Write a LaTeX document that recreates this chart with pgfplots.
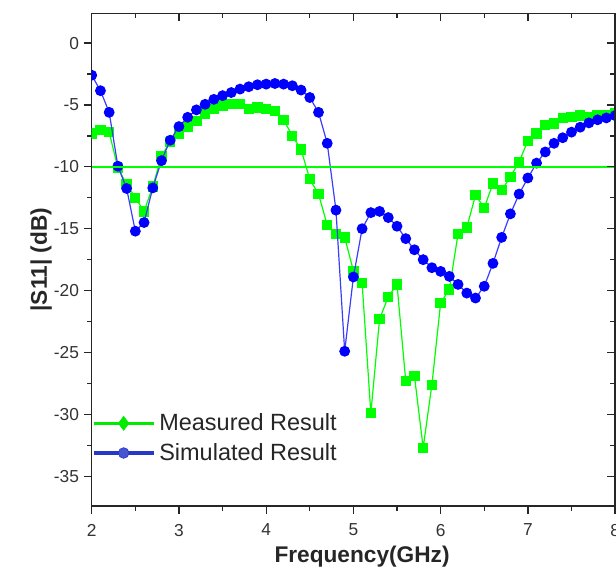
\documentclass[border=0pt]{standalone}
\usepackage{fontspec}
\setmainfont{Liberation Sans}
\usepackage{pgfplots}
\pgfplotsset{compat=1.18}

\definecolor{mgreen}{RGB}{0,255,0}
\definecolor{sblue}{RGB}{0,0,255}
\definecolor{sline}{RGB}{60,60,255}
\definecolor{leggreen}{RGB}{0,235,0}
\definecolor{legblue}{RGB}{40,55,200}

% measured |S11|
\pgfplotstableread{
f    s
2.0  -7.3
2.1  -7.0
2.2  -7.2
2.3  -10.1
2.4  -11.4
2.5  -12.5
2.6  -13.6
2.7  -11.6
2.8  -9.1
2.9  -8.0
3.0  -7.3
3.1  -6.8
3.2  -6.3
3.3  -5.7
3.4  -5.3
3.5  -5.05
3.6  -4.95
3.7  -4.95
3.8  -5.3
3.9  -5.2
4.0  -5.3
4.1  -5.5
4.2  -6.2
4.3  -7.5
4.4  -8.6
4.5  -11.0
4.6  -12.2
4.7  -14.7
4.8  -15.4
4.9  -15.7
5.0  -18.4
5.1  -19.4
5.2  -29.9
5.3  -22.3
5.4  -20.5
5.5  -19.5
5.6  -27.3
5.7  -26.9
5.8  -32.7
5.9  -27.6
6.0  -21.0
6.1  -19.9
6.2  -15.4
6.3  -14.9
6.4  -12.3
6.5  -13.3
6.6  -11.35
6.7  -11.9
6.8  -10.8
6.9  -9.6
7.0  -7.9
7.1  -7.3
7.2  -6.6
7.3  -6.5
7.4  -6.05
7.5  -5.95
7.6  -5.85
7.7  -5.95
7.8  -5.8
7.9  -5.85
8.0  -5.7
}\measured

% simulated |S11|
\pgfplotstableread{
f    s
2.0  -2.6
2.1  -3.85
2.2  -5.6
2.3  -9.95
2.4  -11.75
2.5  -15.2
2.6  -14.5
2.7  -11.7
2.8  -9.5
2.9  -7.85
3.0  -6.75
3.1  -6.0
3.2  -5.4
3.3  -4.95
3.4  -4.55
3.5  -4.25
3.6  -4.0
3.7  -3.72
3.8  -3.53
3.9  -3.37
4.0  -3.32
4.1  -3.27
4.2  -3.32
4.3  -3.45
4.4  -3.8
4.5  -4.4
4.6  -5.6
4.7  -8.1
4.8  -13.5
4.9  -24.9
5.0  -18.9
5.1  -15.0
5.2  -13.7
5.3  -13.6
5.4  -14.1
5.5  -14.8
5.6  -15.8
5.7  -16.7
5.8  -17.5
5.9  -18.15
6.0  -18.45
6.1  -18.85
6.2  -19.5
6.3  -20.2
6.4  -20.6
6.5  -19.65
6.6  -17.8
6.7  -15.7
6.8  -13.8
6.9  -12.2
7.0  -10.9
7.1  -9.7
7.2  -8.8
7.3  -8.1
7.4  -7.65
7.5  -7.2
7.6  -6.8
7.7  -6.45
7.8  -6.2
7.9  -6.05
8.0  -5.86
}\simulated

\pgfplotsset{
  frame/.style={
    scale only axis, width=392.5pt, height=369.5pt,
    xmin=2, xmax=8, ymin=-37.4, ymax=2.4,
    xtick={2,3,...,8}, ytick={-35,-30,...,0},
    minor x tick num=1, minor y tick num=1,
    major tick length=6pt, minor tick length=3.5pt,
    axis line style={-, line width=1.1pt, black!85},
    every tick/.style={line width=1pt, black!85},
  }
}

\begin{document}
\begin{tikzpicture}
\begin{axis}[frame,
  axis x line*=bottom, axis y line*=left, tick align=outside,
  clip mode=individual, clip marker paths=true,
  ticklabel style={font=\fontsize{13}{15}\selectfont, text=black!80},
  /pgf/number format/assume math mode=true,
  xticklabel style={yshift=-4pt},
  xlabel={Frequency(GHz)}, ylabel={|S11| (dB)},
  label style={font=\bfseries\fontsize{17}{20}\selectfont, text=black!85},
  xlabel style={at={(axis description cs:0.5165,-0.1035)}, anchor=center},
  ylabel style={at={(axis description cs:-0.0968,0.5)}, anchor=center},
  legend style={at={(axis description cs:0,0.1377)}, anchor=west,
    draw=none, fill=none, inner sep=0pt, row sep=4pt,
    font=\fontsize{17.6}{20}\selectfont, text=black!85,
    nodes={inner xsep=3pt}},
  legend cell align=left,
  legend image code/.code={
    \draw[#1, mark repeat=2, mark phase=2]
      plot coordinates {(0pt,0pt) (22.5pt,0pt) (45pt,0pt)};},
]
\addlegendimage{leggreen, line width=2.5pt, mark=diamond*, mark size=5.2pt,
  mark options={solid, line width=0.5pt}}
\addlegendentry{Measured Result}
\addlegendimage{legblue, line width=2.5pt, mark=*, mark size=4pt,
  mark options={solid, line width=0.5pt, fill=legblue!85}}
\addlegendentry{Simulated Result}

\addplot[forget plot, mgreen, line width=0.9pt, mark=square*, mark size=3.4pt,
  mark options={fill=mgreen, draw=mgreen}] table[x=f, y=s] {\measured};
\addplot[forget plot, sline, line width=0.9pt, mark=*, mark size=3.6pt,
  mark options={fill=sblue, draw=sblue}] table[x=f, y=s] {\simulated};
\addplot[forget plot, mgreen, line width=1.5pt] coordinates {(2,-10) (8,-10)};
\end{axis}
\begin{axis}[frame,
  axis x line*=top, axis y line*=right, tick align=inside,
  xticklabels={}, yticklabels={}]
\end{axis}
\pgfresetboundingbox
\path[use as bounding box] (-68.8pt,-48pt) rectangle (393.2pt,379.5pt);
\end{tikzpicture}
\end{document}
